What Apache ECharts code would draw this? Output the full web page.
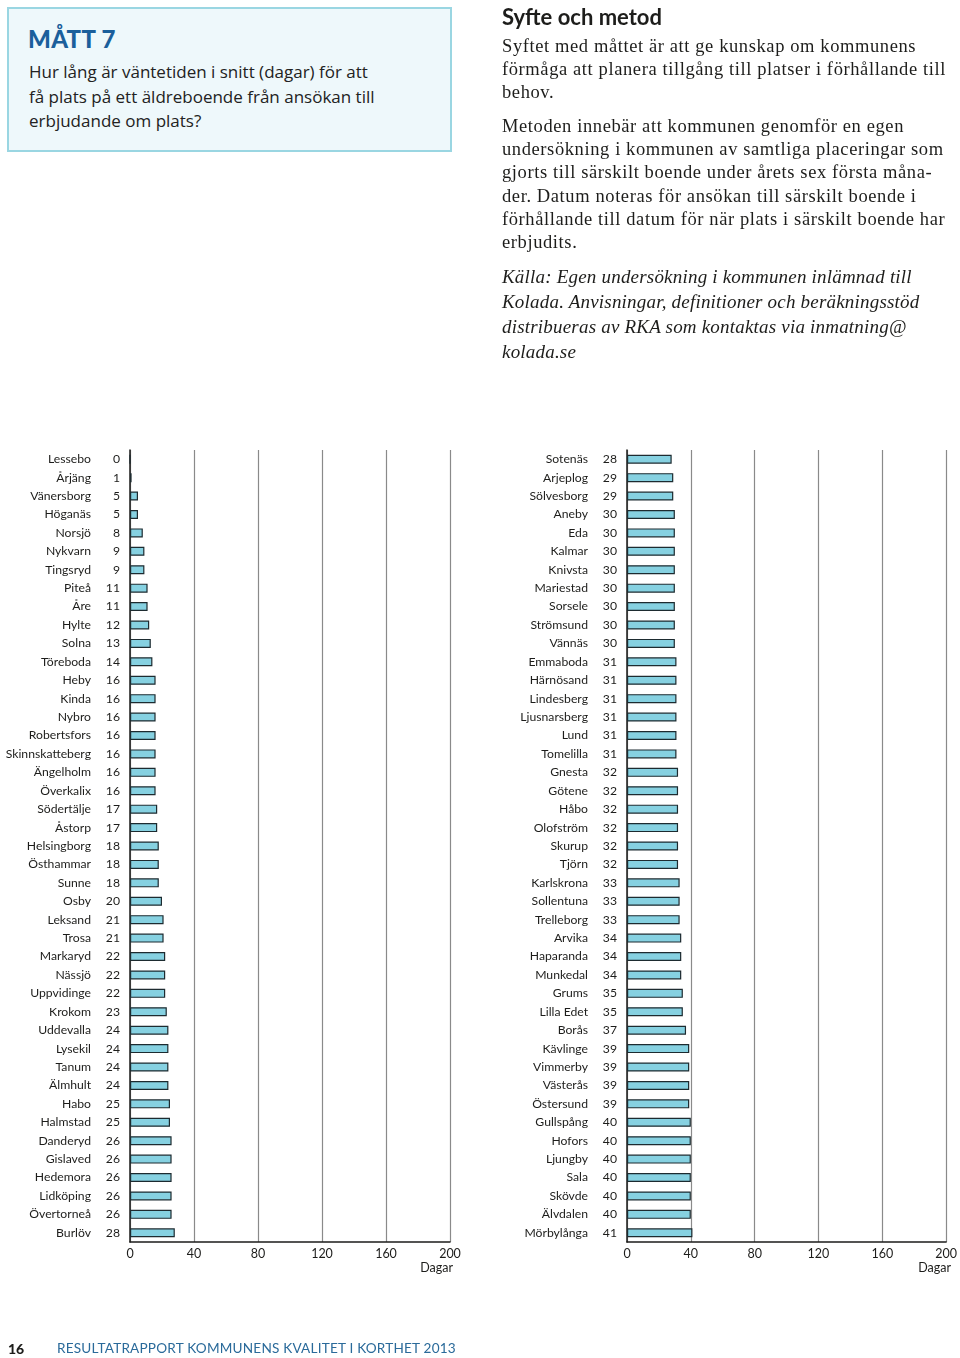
<!DOCTYPE html>
<html><head><meta charset="utf-8">
<script src="https://cdn.jsdelivr.net/npm/echarts@6/dist/echarts.min.js"></script>
<style>
html,body{margin:0;padding:0;background:#fff;}
#page{position:relative;width:960px;height:1358px;overflow:hidden;}
#chart{position:absolute;left:0;top:0;width:960px;height:1358px;}
.t{position:absolute;white-space:nowrap;color:#1d1d1b;}
#box{position:absolute;left:7px;top:7px;width:445px;height:145px;background:#eef8fb;border:2px solid #9ad6e2;box-sizing:border-box;}
</style></head>
<body><div id="page">
<div id="chart"></div>
<div id="box"></div>
<div class="t" style="left:28px;top:24px;font-family:Lato;font-weight:900;font-size:24px;color:#1b5f9b;letter-spacing:0.3px;">MÅTT 7</div>
<div class="t" style="left:29px;top:60px;font-family:'Open Sans';font-size:17px;line-height:24.5px;color:#222;">Hur lång är väntetiden i snitt (dagar) för att<br>få plats på ett äldreboende från ansökan till<br>erbjudande om plats?</div>
<div class="t" style="left:502px;top:3px;font-family:Lato;font-weight:700;font-size:22px;color:#1d1d1b;">Syfte och metod</div>
<div class="t" style="left:502px;top:35px;font-family:'Liberation Serif';font-size:18.5px;line-height:23.2px;letter-spacing:0.6px;">Syftet med måttet är att ge kunskap om kommunens<br>förmåga att planera tillgång till platser i förhållande till<br>behov.</div>
<div class="t" style="left:502px;top:115px;font-family:'Liberation Serif';font-size:18.5px;line-height:23.2px;letter-spacing:0.6px;">Metoden innebär att kommunen genomför en egen<br>undersökning i kommunen av samtliga placeringar som<br>gjorts till särskilt boende under årets sex första måna-<br>der. Datum noteras för ansökan till särskilt boende i<br>förhållande till datum för när plats i särskilt boende har<br>erbjudits.</div>
<div class="t" style="left:502px;top:264px;font-family:'Liberation Serif';font-style:italic;font-size:19px;line-height:25px;letter-spacing:0.2px;">Källa: Egen undersökning i kommunen inlämnad till<br>Kolada. Anvisningar, definitioner och beräkningsstöd<br>distribueras av RKA som kontaktas via inmatning@<br>kolada.se</div>
<div class="t" style="left:8px;top:1340px;font-family:Lato;font-weight:900;font-size:14px;">16</div>
<div class="t" style="left:57px;top:1340px;font-family:Lato;font-size:13.6px;color:#2a6a9a;letter-spacing:0.2px;">RESULTATRAPPORT KOMMUNENS KVALITET I KORTHET 2013</div>
</div>
<script>
const leftNames = ["Lessebo","Årjäng","Vänersborg","Höganäs","Norsjö","Nykvarn","Tingsryd","Piteå","Åre","Hylte","Solna","Töreboda","Heby","Kinda","Nybro","Robertsfors","Skinnskatteberg","Ängelholm","Överkalix","Södertälje","Åstorp","Helsingborg","Östhammar","Sunne","Osby","Leksand","Trosa","Markaryd","Nässjö","Uppvidinge","Krokom","Uddevalla","Lysekil","Tanum","Älmhult","Habo","Halmstad","Danderyd","Gislaved","Hedemora","Lidköping","Övertorneå","Burlöv"];
const leftValues = [0,1,5,5,8,9,9,11,11,12,13,14,16,16,16,16,16,16,16,17,17,18,18,18,20,21,21,22,22,22,23,24,24,24,24,25,25,26,26,26,26,26,28];
const rightNames = ["Sotenäs","Arjeplog","Sölvesborg","Aneby","Eda","Kalmar","Knivsta","Mariestad","Sorsele","Strömsund","Vännäs","Emmaboda","Härnösand","Lindesberg","Ljusnarsberg","Lund","Tomelilla","Gnesta","Götene","Håbo","Olofström","Skurup","Tjörn","Karlskrona","Sollentuna","Trelleborg","Arvika","Haparanda","Munkedal","Grums","Lilla Edet","Borås","Kävlinge","Vimmerby","Västerås","Östersund","Gullspång","Hofors","Ljungby","Sala","Skövde","Älvdalen","Mörbylånga"];
const rightValues = [28,29,29,30,30,30,30,30,30,30,30,31,31,31,31,31,31,32,32,32,32,32,32,33,33,33,34,34,34,35,35,37,39,39,39,39,40,40,40,40,40,40,41];
const xTicks = [0,40,80,120,160,200];
const axisTitle = "Dagar";

const font = 'Lato';
const chart = echarts.init(document.getElementById('chart'), null, {renderer:'canvas'});
function yAxisFor(names, values, gi){
  return {
    type:'category', gridIndex:gi, data:names, inverse:true,
    axisLine:{show:true, lineStyle:{color:'#1d1d1b', width:1.5}},
    axisTick:{show:false},
    axisLabel:{
      margin:10,
      formatter:(v, i)=>'{n|'+v+'}{v|'+values[i]+'}',
      rich:{
        n:{fontFamily:font, fontSize:12.2, color:'#1d1d1b'},
        v:{fontFamily:font, fontSize:12.2, color:'#1d1d1b', width:29, align:'right'}
      }
    }
  };
}
function xAxisFor(gi){
  return {
    type:'value', gridIndex:gi, min:0, max:200, interval:40,
    axisLine:{show:true, lineStyle:{color:'#1d1d1b', width:1.5}},
    axisTick:{show:false},
    splitLine:{show:true, lineStyle:{color:'#8a8a8a', width:1.2}},
    axisLabel:{margin:5, fontFamily:font, fontSize:12.5, color:'#1d1d1b',
      formatter:v=> xTicks.includes(v)? String(v):''}
  };
}
const barStyle = {color:'#86d1e1', borderColor:'#1d2b30', borderWidth:1.2};
chart.setOption({
  animation:false,
  grid:[
    {left:130, top:450, width:320, height:792, containLabel:false},
    {left:627, top:450, width:320, height:792, containLabel:false}
  ],
  xAxis:[xAxisFor(0), xAxisFor(1)],
  yAxis:[yAxisFor(leftNames,leftValues,0), yAxisFor(rightNames,rightValues,1)],
  series:[
    {type:'bar', xAxisIndex:0, yAxisIndex:0, data:leftValues, barWidth:9, itemStyle:barStyle},
    {type:'bar', xAxisIndex:1, yAxisIndex:1, data:rightValues, barWidth:9, itemStyle:barStyle}
  ],
  graphic:[
    {type:'text', right:960-453, top:1261, style:{text:axisTitle, fontFamily:font, fontSize:12.5, fill:'#1d1d1b'}},
    {type:'text', right:960-951, top:1261, style:{text:axisTitle, fontFamily:font, fontSize:12.5, fill:'#1d1d1b'}}
  ]
});
</script>
</body></html>
